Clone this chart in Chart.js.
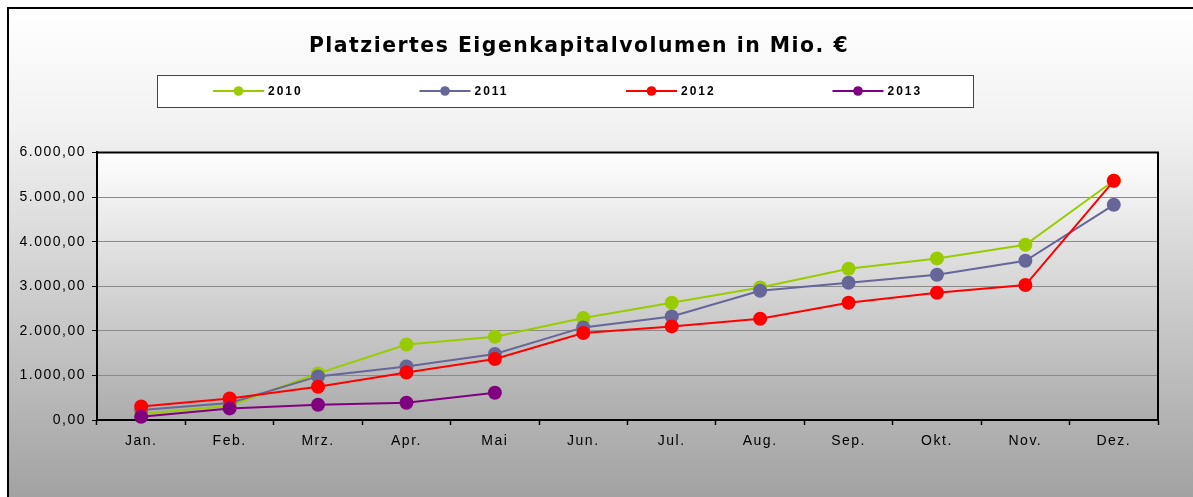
<!DOCTYPE html>
<html>
<head>
<meta charset="utf-8">
<script src="https://cdn.jsdelivr.net/npm/chart.js@4.4.1/dist/chart.umd.min.js"></script>
<style>
  html, body { margin: 0; padding: 0; background: #ffffff; }
  #wrap { width: 1193px; height: 497px; position: relative; }
</style>
</head>
<body>
<div id="wrap"><canvas id="c" width="1193" height="497"></canvas></div>
<script>
const chartTitle = 'Platziertes Eigenkapitalvolumen in Mio. €';
const categories = ['Jan.', 'Feb.', 'Mrz.', 'Apr.', 'Mai', 'Jun.', 'Jul.', 'Aug.', 'Sep.', 'Okt.', 'Nov.', 'Dez.'];
const seriesNames = ['2010', '2011', '2012', '2013'];
const values2010 = [134, 320, 1045, 1695, 1868, 2287, 2630, 2973, 3392, 3624, 3930, 5365];
const values2011 = [224, 381, 978, 1202, 1480, 2077, 2323, 2899, 3078, 3258, 3572, 4827];
const values2012 = [305, 484, 747, 1067, 1368, 1950, 2099, 2271, 2630, 2854, 3027, 5365];
const values2013 = [74, 260, 343, 388, 612, null, null, null, null, null, null, null];
const yTickValues = [0, 1000, 2000, 3000, 4000, 5000, 6000];
const seriesColors = ['#99cc00', '#666699', '#ff0000', '#800080'];

function fmtDE(v) {
  const s = Math.round(v).toString().replace(/\B(?=(\d{3})+(?!\d))/g, '.');
  return s + ',00';
}

const seriesValues = [values2010, values2011, values2012, values2013];

const decor = {
  id: 'decor',
  beforeDraw(chart) {
    const ctx = chart.ctx;
    const W = chart.width, H = chart.height;
    ctx.save();
    ctx.fillStyle = '#ffffff';
    ctx.fillRect(0, 0, W, H);
    const g = ctx.createLinearGradient(0, 8, 0, H);
    g.addColorStop(0, '#ffffff');
    g.addColorStop(0.25, '#f1f1f1');
    g.addColorStop(1, '#a2a2a2');
    ctx.fillStyle = g;
    ctx.fillRect(8, 8, W - 8, H - 8);
    ctx.strokeStyle = '#000000';
    ctx.lineWidth = 2;
    ctx.beginPath();
    ctx.moveTo(8, H);
    ctx.lineTo(8, 8);
    ctx.lineTo(W, 8);
    ctx.stroke();
    const a = chart.chartArea;
    const pg = ctx.createLinearGradient(0, a.top, 0, a.bottom);
    pg.addColorStop(0, '#ffffff');
    pg.addColorStop(1, '#acacac');
    ctx.fillStyle = pg;
    ctx.fillRect(a.left, a.top, a.right - a.left, a.bottom - a.top);
    ctx.restore();
    ctx.letterSpacing = '1.5px';
  },
  beforeDatasetsDraw(chart) {
    const ctx = chart.ctx;
    const a = chart.chartArea;
    ctx.save();
    ctx.strokeStyle = '#000000';
    ctx.lineWidth = 2;
    ctx.beginPath();
    ctx.moveTo(a.left, a.top);
    ctx.lineTo(a.right, a.top);
    ctx.lineTo(a.right, a.bottom);
    ctx.stroke();
    ctx.restore();
  },
  afterDraw(chart) {
    const ctx = chart.ctx;
    ctx.save();
    // legend box
    ctx.fillStyle = '#ffffff';
    ctx.fillRect(157, 75, 816, 33);
    ctx.strokeStyle = '#444444';
    ctx.lineWidth = 1;
    ctx.strokeRect(157.5, 75.5, 816, 32);
    const ds = chart.data.datasets;
    ctx.letterSpacing = '2px';
    ctx.font = 'bold 12px "Liberation Sans", Arial, sans-serif';
    ctx.textBaseline = 'middle';
    ctx.textAlign = 'left';
    for (let i = 0; i < ds.length; i++) {
      const x0 = 213 + i * 206.5;
      const y = 91;
      ctx.strokeStyle = ds[i].borderColor;
      ctx.lineWidth = 2;
      ctx.beginPath();
      ctx.moveTo(x0, y);
      ctx.lineTo(x0 + 51, y);
      ctx.stroke();
      ctx.fillStyle = ds[i].borderColor;
      ctx.beginPath();
      ctx.arc(x0 + 25.5, y, 4.8, 0, Math.PI * 2);
      ctx.fill();
      ctx.fillStyle = '#000000';
      ctx.fillText(ds[i].label, x0 + 55, y + 0.5);
    }
    ctx.restore();
  }
};

const datasets = seriesNames.map((name, i) => ({
  label: name,
  data: seriesValues[i],
  borderColor: seriesColors[i],
  backgroundColor: seriesColors[i],
  pointBackgroundColor: seriesColors[i],
  pointBorderColor: seriesColors[i],
  pointBorderWidth: 0,
  pointRadius: 7,
  pointHoverRadius: 7,
  borderWidth: 2,
  tension: 0,
  spanGaps: false,
  clip: false,
  order: 3 - i
}));

new Chart(document.getElementById('c'), {
  type: 'line',
  data: { labels: categories, datasets: datasets },
  options: {
    responsive: false,
    animation: false,
    events: [],
    layout: { padding: { left: 0, right: 35, top: 0, bottom: 0 } },
    plugins: {
      legend: { display: false },
      tooltip: { enabled: false },
      title: {
        display: true,
        text: chartTitle,
        color: '#000000',
        font: { family: '"DejaVu Sans", Verdana, sans-serif', size: 20.4, weight: 'bold', lineHeight: 1.2 },
        padding: { top: 34, bottom: 94 }
      }
    },
    scales: {
      x: {
        type: 'category',
        offset: true,
        afterFit(scale) { scale.height = 77; },
        grid: { display: true, drawOnChartArea: false, drawTicks: true, tickLength: 5, offset: true, color: '#000000', tickColor: '#000000', tickWidth: 1.5 },
        border: { display: true, color: '#000000', width: 2 },
        ticks: {
          color: '#000000',
          font: { family: '"Liberation Sans", Arial, sans-serif', size: 14 },
          padding: 8,
          maxRotation: 0,
          autoSkip: false
        }
      },
      y: {
        min: 0,
        max: 6000,
        afterFit(scale) { scale.width = 97; },
        afterBuildTicks(scale) { scale.ticks = yTickValues.map(v => ({ value: v })); },
        grid: { color: '#8a8a8a', lineWidth: 1, drawTicks: true, tickLength: 5, tickColor: '#000000' },
        border: { display: true, color: '#000000', width: 2 },
        ticks: {
          color: '#000000',
          font: { family: '"Liberation Sans", Arial, sans-serif', size: 14 },
          padding: 6,
          callback: (v) => fmtDE(v)
        }
      }
    }
  },
  plugins: [decor]
});
</script>
</body>
</html>
